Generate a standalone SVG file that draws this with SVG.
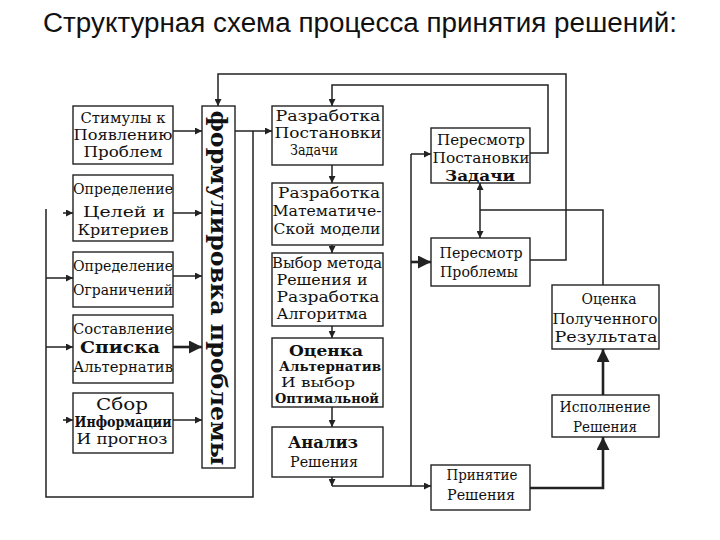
<svg xmlns="http://www.w3.org/2000/svg" width="720" height="540" viewBox="0 0 720 540">
<style>
.bg{fill:#fff}
.box{fill:#fff;stroke:#222;stroke-width:1.4}
.t{font-family:"DejaVu Serif","Liberation Serif",serif;font-size:14.5px;fill:#111;text-anchor:middle;dominant-baseline:central}
.b{font-weight:bold}
.ln{fill:none;stroke:#222;stroke-width:1.5}
.thk{stroke-width:2.6}
.title{font-family:"Liberation Sans",Arial,sans-serif;font-size:27px;fill:#111;text-anchor:middle}
.vt{font-family:"DejaVu Serif","Liberation Serif",serif;font-size:23px;font-weight:bold;fill:#111;text-anchor:middle;dominant-baseline:central}
</style>
<defs>
<marker id="ah" viewBox="0 0 10 10" refX="10" refY="5" markerWidth="7" markerHeight="7" markerUnits="userSpaceOnUse" orient="auto-start-reverse">
<path d="M0,0 L10,5 L0,10 z" fill="#222"/>
</marker>
<marker id="ahb" viewBox="0 0 10 10" refX="10" refY="5" markerWidth="5" markerHeight="5" orient="auto-start-reverse">
<path d="M0,0 L10,5 L0,10 z" fill="#222"/>
</marker>
</defs>
<rect class="bg" width="720" height="540"/>
<text class="title" x="360" y="32" textLength="634" lengthAdjust="spacingAndGlyphs">Структурная схема процесса принятия решений:</text>

<g id="connectors">
<line class="ln" x1="173" y1="131" x2="202" y2="131" marker-end="url(#ah)"/>
<line class="ln" x1="173" y1="213" x2="202" y2="213" marker-end="url(#ah)"/>
<line class="ln" x1="173" y1="276" x2="202" y2="276" marker-end="url(#ah)"/>
<line class="ln thk" x1="173" y1="347" x2="202" y2="347" marker-end="url(#ahb)"/>
<line class="ln" x1="173" y1="420" x2="202" y2="420" marker-end="url(#ah)"/>
<line class="ln" x1="235" y1="131" x2="272" y2="131" marker-end="url(#ah)"/>
<path class="ln" d="M253,131 V497 H46 V209"/>
<line class="ln" x1="63" y1="213" x2="73" y2="213" marker-end="url(#ah)"/>
<line class="ln" x1="46" y1="278" x2="73" y2="278" marker-end="url(#ah)"/>
<line class="ln" x1="46" y1="347" x2="73" y2="347" marker-end="url(#ah)"/>
<line class="ln" x1="63" y1="420" x2="73" y2="420" marker-end="url(#ah)"/>
<line class="ln" x1="332" y1="165" x2="332" y2="183" marker-end="url(#ah)"/>
<line class="ln" x1="332" y1="245" x2="332" y2="253" marker-end="url(#ah)"/>
<line class="ln" x1="332" y1="326" x2="332" y2="338" marker-end="url(#ah)"/>
<line class="ln" x1="332" y1="407" x2="332" y2="427" marker-end="url(#ah)"/>
<line class="ln" x1="332" y1="477" x2="332" y2="486" marker-end="url(#ah)"/>
<line class="ln" x1="332" y1="486" x2="431" y2="486" marker-end="url(#ah)"/>
<line class="ln" x1="411" y1="486" x2="411" y2="154"/>
<line class="ln" x1="411" y1="154" x2="431" y2="154" marker-end="url(#ah)"/>
<line class="ln thk" x1="411" y1="262" x2="431" y2="262" marker-end="url(#ahb)"/>
<line class="ln" x1="480" y1="183" x2="480" y2="238" marker-start="url(#ah)" marker-end="url(#ah)"/>
<path class="ln" d="M480,210 H603 V285"/>
<path class="ln" d="M530,260 H566 V74 H218 V106" marker-end="url(#ah)"/>
<path class="ln" d="M530,153 H548 V85 H332 V106" marker-end="url(#ah)"/>
<path class="ln thk" d="M530,488 H603 V437" marker-end="url(#ahb)"/>
<line class="ln thk" x1="603" y1="395" x2="603" y2="349" marker-end="url(#ahb)"/>
</g>

<g id="n-stimuly">
<rect class="box" x="73" y="106" width="100" height="58"/>
<text class="t" x="123" y="118" textLength="85" lengthAdjust="spacingAndGlyphs">Стимулы к</text>
<text class="t" x="123" y="135" textLength="99" lengthAdjust="spacingAndGlyphs">Появлению</text>
<text class="t" x="123" y="152" textLength="79" lengthAdjust="spacingAndGlyphs">Проблем</text>
</g>
<g id="n-celi">
<rect class="box" x="73" y="175" width="100" height="66"/>
<text class="t" x="123" y="189" textLength="100" lengthAdjust="spacingAndGlyphs">Определение</text>
<text class="t" x="124" y="212" textLength="82" lengthAdjust="spacingAndGlyphs">Целей и</text>
<text class="t" x="123" y="230" textLength="91" lengthAdjust="spacingAndGlyphs">Критериев</text>
</g>
<g id="n-ogr">
<rect class="box" x="73" y="252" width="100" height="55"/>
<text class="t" x="123" y="266" textLength="100" lengthAdjust="spacingAndGlyphs">Определение</text>
<text class="t" x="123" y="290" textLength="100" lengthAdjust="spacingAndGlyphs">Ограничений</text>
</g>
<g id="n-spisok">
<rect class="box" x="73" y="315" width="100" height="68"/>
<text class="t" x="123" y="329" textLength="100" lengthAdjust="spacingAndGlyphs">Составление</text>
<text class="t b" x="120" y="347" style="font-size:16px" textLength="80" lengthAdjust="spacingAndGlyphs">Списка</text>
<text class="t" x="123" y="367" textLength="100" lengthAdjust="spacingAndGlyphs">Альтернатив</text>
</g>
<g id="n-sbor">
<rect class="box" x="73" y="393" width="100" height="60"/>
<text class="t" x="122" y="404" style="font-size:16px" textLength="52" lengthAdjust="spacingAndGlyphs">Сбор</text>
<text class="t b" x="123" y="422" style="font-size:14px" textLength="97" lengthAdjust="spacingAndGlyphs">Информации</text>
<text class="t" x="122" y="439" textLength="91" lengthAdjust="spacingAndGlyphs">И прогноз</text>
</g>
<g id="n-formulirovka">
<rect class="box" x="202" y="106" width="33" height="362"/>
<text class="vt" transform="translate(219,288) rotate(90)" textLength="355" lengthAdjust="spacingAndGlyphs">формулировка проблемы</text>
</g>
<g id="n-razr-post">
<rect class="box" x="272" y="106" width="111" height="59"/>
<text class="t" x="328" y="116" textLength="105" lengthAdjust="spacingAndGlyphs">Разработка</text>
<text class="t" x="328" y="133" textLength="107" lengthAdjust="spacingAndGlyphs">Постановки</text>
<text class="t" x="314" y="150" textLength="48" lengthAdjust="spacingAndGlyphs">Задачи</text>
</g>
<g id="n-razr-mat">
<rect class="box" x="272" y="183" width="111" height="62"/>
<text class="t" x="329" y="193" textLength="102" lengthAdjust="spacingAndGlyphs">Разработка</text>
<text class="t" x="327" y="211" textLength="109" lengthAdjust="spacingAndGlyphs">Математиче-</text>
<text class="t" x="327" y="229" textLength="107" lengthAdjust="spacingAndGlyphs">Ской модели</text>
</g>
<g id="n-vybor">
<rect class="box" x="272" y="253" width="111" height="73"/>
<text class="t" x="327" y="263" style="font-size:14px" textLength="110" lengthAdjust="spacingAndGlyphs">Выбор метода</text>
<text class="t" x="322" y="280" style="font-size:14px" textLength="91" lengthAdjust="spacingAndGlyphs">Решения и</text>
<text class="t" x="328" y="297" style="font-size:14px" textLength="103" lengthAdjust="spacingAndGlyphs">Разработка</text>
<text class="t" x="322" y="314" style="font-size:14px" textLength="91" lengthAdjust="spacingAndGlyphs">Алгоритма</text>
</g>
<g id="n-ocenka-alt">
<rect class="box" x="272" y="338" width="111" height="69"/>
<text class="t b" x="326" y="350" style="font-size:14.5px" textLength="74" lengthAdjust="spacingAndGlyphs">Оценка</text>
<text class="t b" x="330" y="366" style="font-size:13px" textLength="102" lengthAdjust="spacingAndGlyphs">Альтернатив</text>
<text class="t" x="318" y="382" style="font-size:13.5px" textLength="74" lengthAdjust="spacingAndGlyphs">И выбор</text>
<text class="t b" x="327" y="398" style="font-size:13px" textLength="104" lengthAdjust="spacingAndGlyphs">Оптимальной</text>
</g>
<g id="n-analiz">
<rect class="box" x="272" y="427" width="111" height="50"/>
<text class="t b" x="323" y="442" style="font-size:16px" textLength="70" lengthAdjust="spacingAndGlyphs">Анализ</text>
<text class="t" x="324" y="462" textLength="68" lengthAdjust="spacingAndGlyphs">Решения</text>
</g>
<g id="n-peresmotr-post">
<rect class="box" x="431" y="128" width="99" height="55"/>
<text class="t" x="481" y="140" textLength="88" lengthAdjust="spacingAndGlyphs">Пересмотр</text>
<text class="t" x="481" y="158" textLength="97" lengthAdjust="spacingAndGlyphs">Постановки</text>
<text class="t b" x="480" y="175" textLength="70" lengthAdjust="spacingAndGlyphs">Задачи</text>
</g>
<g id="n-peresmotr-probl">
<rect class="box" x="431" y="238" width="99" height="48"/>
<text class="t" x="481" y="253" textLength="83" lengthAdjust="spacingAndGlyphs">Пересмотр</text>
<text class="t" x="479" y="272" textLength="78" lengthAdjust="spacingAndGlyphs">Проблемы</text>
</g>
<g id="n-ocenka-rez">
<rect class="box" x="552" y="285" width="107" height="64"/>
<text class="t" x="609" y="299" textLength="55" lengthAdjust="spacingAndGlyphs">Оценка</text>
<text class="t" x="605" y="319" textLength="105" lengthAdjust="spacingAndGlyphs">Полученного</text>
<text class="t" x="606" y="337" textLength="103" lengthAdjust="spacingAndGlyphs">Результата</text>
</g>
<g id="n-ispolnenie">
<rect class="box" x="552" y="395" width="107" height="42"/>
<text class="t" x="605" y="407" textLength="91" lengthAdjust="spacingAndGlyphs">Исполнение</text>
<text class="t" x="605" y="427" textLength="64" lengthAdjust="spacingAndGlyphs">Решения</text>
</g>
<g id="n-prinyatie">
<rect class="box" x="431" y="465" width="99" height="45"/>
<text class="t" x="482" y="475" textLength="71" lengthAdjust="spacingAndGlyphs">Принятие</text>
<text class="t" x="481" y="495" textLength="68" lengthAdjust="spacingAndGlyphs">Решения</text>
</g>
</svg>
